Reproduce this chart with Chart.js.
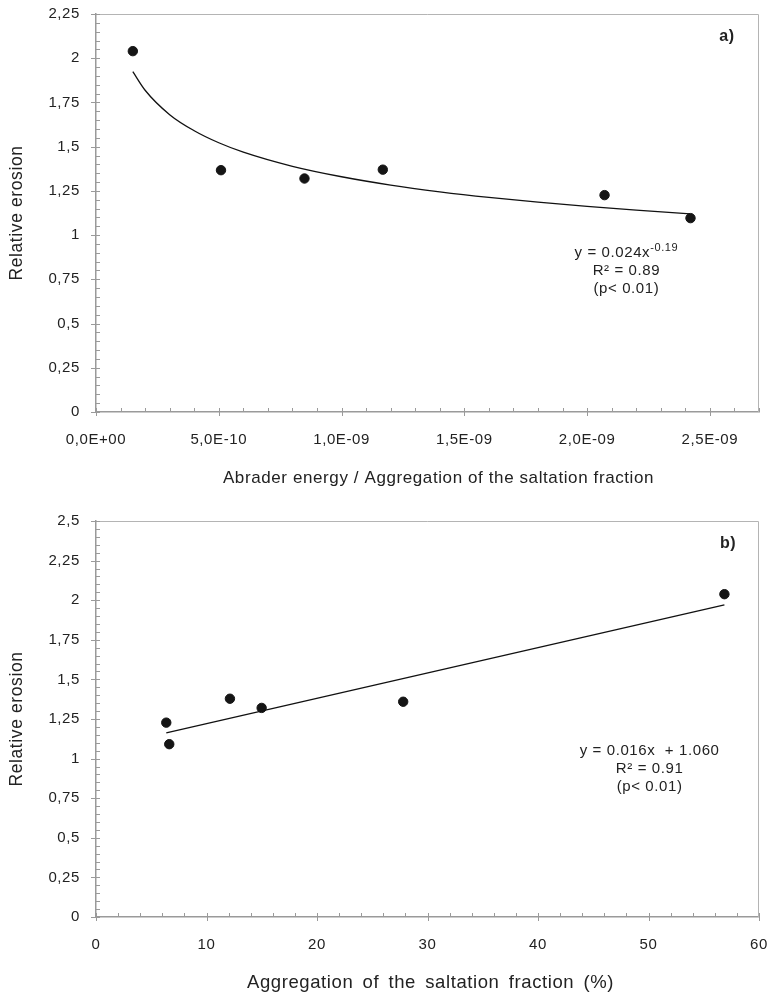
<!DOCTYPE html>
<html>
<head>
<meta charset="utf-8">
<script src="https://cdn.jsdelivr.net/npm/chart.js@4.4.0/dist/chart.umd.min.js"></script>
<style>
  html, body { margin: 0; padding: 0; background: #fff; overflow: hidden; }
  .box { position: relative; width: 768px; height: 498px; }
  canvas { display: block; }
</style>
</head>
<body>
<div class="box"><canvas id="chartA"></canvas></div>
<div class="box"><canvas id="chartB"></canvas></div>
<script>
// panel a) - relative erosion vs abrader energy / aggregation
const abraderX = [1.50e-10, 5.09e-10, 8.49e-10, 1.168e-9, 2.071e-9, 2.421e-9];
const erosionA = [2.04, 1.367, 1.32, 1.37, 1.226, 1.096];
// power trend line
const curveX = [1.5e-10, 2e-10, 3e-10, 4e-10, 5e-10, 6e-10, 8e-10, 1e-9, 1.2e-9, 1.4e-9, 1.6e-9, 1.8e-9, 2.0e-9, 2.2e-9, 2.42e-9];
const curveY = [1.924, 1.819, 1.681, 1.590, 1.522, 1.469, 1.389, 1.330, 1.283, 1.245, 1.213, 1.186, 1.162, 1.141, 1.120];
const xTicksA = [0, 5e-10, 1e-9, 1.5e-9, 2e-9, 2.5e-9];
const xTickLabelsA = ["0,0E+00", "5,0E-10", "1,0E-09", "1,5E-09", "2,0E-09", "2,5E-09"];
const yTicksA = [0, 0.25, 0.5, 0.75, 1, 1.25, 1.5, 1.75, 2, 2.25];

// panel b) - relative erosion vs aggregation (%)
const aggregationX = [6.36, 6.63, 12.12, 14.99, 27.8, 56.87];
const erosionB = [1.227, 1.091, 1.378, 1.32, 1.359, 2.038];
const fitX = [6.36, 56.87];
const fitY = [1.162, 1.97];
const xTicksB = [0, 10, 20, 30, 40, 50, 60];
const yTicksB = [0, 0.25, 0.5, 0.75, 1, 1.25, 1.5, 1.75, 2, 2.25, 2.5];

const FONT = "'Liberation Sans', Arial, sans-serif";
const TEXT = "#222";
const AXIS = "#9a9a9a";

function commaNumber(v) {
  return String(+v.toFixed(2)).replace(".", ",");
}

// the picture's text is a bit wide, so every string gets some letter spacing
const spacingPlugin = {
  id: "spacing",
  beforeDraw(chart) {
    chart.ctx.letterSpacing = "0.6px";
  }
};

// minor/major tick marks, plot frame, axis titles and text notes
const framePlugin = {
  id: "frame",
  afterDraw(chart, args, opts) {
    const ctx = chart.ctx;
    const area = chart.chartArea;
    const xs = chart.scales.x;
    const ys = chart.scales.y;
    ctx.save();

    ctx.strokeStyle = "#b4b4b4";
    ctx.lineWidth = 1;
    ctx.beginPath();
    ctx.moveTo(area.left, area.top + 0.5);
    ctx.lineTo(area.right - 0.5, area.top + 0.5);
    ctx.lineTo(area.right - 0.5, area.bottom);
    ctx.stroke();

    ctx.strokeStyle = AXIS;
    ctx.lineWidth = 1;
    ctx.beginPath();
    for (let i = 0; i * opts.xMinor <= xs.max + opts.xMinor * 1e-6; i++) {
      const px = Math.round(xs.getPixelForValue(i * opts.xMinor)) + 0.5;
      const major = i % opts.xEvery === 0;
      ctx.moveTo(px, area.bottom - 4);
      ctx.lineTo(px, area.bottom + (major ? 4 : 0));
    }
    for (let i = 0; i * opts.yMinor <= ys.max + opts.yMinor * 1e-6; i++) {
      const py = Math.round(ys.getPixelForValue(i * opts.yMinor)) + 0.5;
      const major = i % 5 === 0;
      ctx.moveTo(area.left + 4, py);
      ctx.lineTo(area.left - (major ? 5 : 0), py);
    }
    ctx.stroke();

    ctx.fillStyle = TEXT;
    ctx.textAlign = "center";
    ctx.textBaseline = "middle";

    // axis titles
    ctx.font = opts.xTitleSize + "px " + FONT;
    ctx.wordSpacing = opts.xTitleWordGap + "px";
    ctx.fillText(opts.xTitle, (area.left + area.right) / 2 + opts.xTitleShift, area.bottom + 66);
    ctx.wordSpacing = "0px";
    ctx.save();
    ctx.translate(17.5, (area.top + area.bottom) / 2);
    ctx.rotate(-Math.PI / 2);
    ctx.font = "17.5px " + FONT;
    ctx.fillText("Relative erosion", 0, 0);
    ctx.restore();

    ctx.font = "bold 16px " + FONT;
    ctx.fillText(opts.panel.text, xs.getPixelForValue(opts.panel.x), ys.getPixelForValue(opts.panel.y));

    const cx = xs.getPixelForValue(opts.note.x);
    let cy = ys.getPixelForValue(opts.note.y);
    opts.note.lines.forEach(line => {
      if (Array.isArray(line)) {
        ctx.font = "15px " + FONT;
        const w1 = ctx.measureText(line[0]).width;
        ctx.font = "11px " + FONT;
        const w2 = ctx.measureText(line[1]).width;
        const start = cx - (w1 + w2) / 2;
        ctx.textAlign = "left";
        ctx.font = "15px " + FONT;
        ctx.fillText(line[0], start, cy);
        ctx.font = "11px " + FONT;
        ctx.fillText(line[1], start + w1, cy - 5);
        ctx.textAlign = "center";
      } else {
        ctx.font = "15px " + FONT;
        ctx.fillText(line, cx, cy);
      }
      cy += 18;
    });
    ctx.restore();
  }
};

function buildChart(canvasId, cfg) {
  new Chart(document.getElementById(canvasId), {
    type: "scatter",
    data: {
      datasets: [
        {
          type: "line",
          data: cfg.lineX.map((x, i) => ({ x: x, y: cfg.lineY[i] })),
          borderColor: "#111",
          borderWidth: 1.3,
          pointRadius: 0,
          cubicInterpolationMode: "monotone",
          fill: false
        },
        {
          data: cfg.pointsX.map((x, i) => ({ x: x, y: cfg.pointsY[i] })),
          backgroundColor: "#151515",
          borderColor: "#151515",
          pointRadius: 4.7,
          pointHoverRadius: 4.7
        }
      ]
    },
    options: {
      responsive: true,
      maintainAspectRatio: false,
      animation: false,
      layout: { padding: { top: cfg.padTop, right: cfg.padRight, left: 0, bottom: 0 } },
      plugins: {
        legend: { display: false },
        tooltip: { enabled: false },
        frame: cfg.frame
      },
      scales: {
        x: {
          type: "linear",
          min: 0,
          max: cfg.xMax,
          grid: { display: false, drawTicks: false },
          border: { display: true, color: AXIS, width: 1.5 },
          afterBuildTicks: s => { s.ticks = cfg.xTicks.map(v => ({ value: v })); },
          afterFit: s => {
            s.height = cfg.xHeight;
            s.paddingLeft = 0;
            s.paddingRight = 0;
          },
          ticks: {
            padding: 19,
            color: TEXT,
            font: { family: FONT, size: 15 },
            maxRotation: 0,
            callback: cfg.xLabel
          }
        },
        y: {
          type: "linear",
          min: 0,
          max: cfg.yMax,
          grid: { display: false, drawTicks: false },
          border: { display: true, color: AXIS, width: 1.5 },
          afterBuildTicks: s => { s.ticks = cfg.yTicks.map(v => ({ value: v })); },
          afterFit: s => {
            s.width = 96;
            s.paddingTop = 0;
            s.paddingBottom = 0;
          },
          ticks: {
            padding: 16,
            color: TEXT,
            font: { family: FONT, size: 15 },
            callback: v => commaNumber(v)
          }
        }
      }
    },
    plugins: [spacingPlugin, framePlugin]
  });
}

buildChart("chartA", {
  pointsX: abraderX,
  pointsY: erosionA,
  lineX: curveX,
  lineY: curveY,
  xMax: 2.7e-9,
  yMax: 2.25,
  xTicks: xTicksA,
  yTicks: yTicksA,
  xLabel: (v, i) => xTickLabelsA[i],
  padTop: 14,
  padRight: 9,
  xHeight: 86,
  frame: {
    xMinor: 1e-10,
    xEvery: 5,
    yMinor: 0.05,
    xTitle: "Abrader energy / Aggregation of the saltation fraction",
    xTitleSize: 17,
    xTitleWordGap: 0,
    xTitleShift: 11,
    panel: { text: "a)", x: 2.57e-9, y: 2.12 },
    note: { x: 2.16e-9, y: 0.9, lines: [["y = 0.024x", "-0.19"], "R\u00b2 = 0.89", "(p< 0.01)"] }
  }
});

buildChart("chartB", {
  pointsX: aggregationX,
  pointsY: erosionB,
  lineX: fitX,
  lineY: fitY,
  xMax: 60,
  yMax: 2.5,
  xTicks: xTicksB,
  yTicks: yTicksB,
  xLabel: v => String(v),
  padTop: 23,
  padRight: 9,
  xHeight: 79,
  frame: {
    xMinor: 2,
    xEvery: 5,
    yMinor: 0.05,
    xTitle: "Aggregation of the saltation fraction (%)",
    xTitleSize: 18.5,
    xTitleWordGap: 3.5,
    xTitleShift: 3,
    panel: { text: "b)", x: 57.2, y: 2.36 },
    note: { x: 50.1, y: 1.05, lines: ["y = 0.016x  + 1.060", "R\u00b2 = 0.91", "(p< 0.01)"] }
  }
});
</script>
</body>
</html>
